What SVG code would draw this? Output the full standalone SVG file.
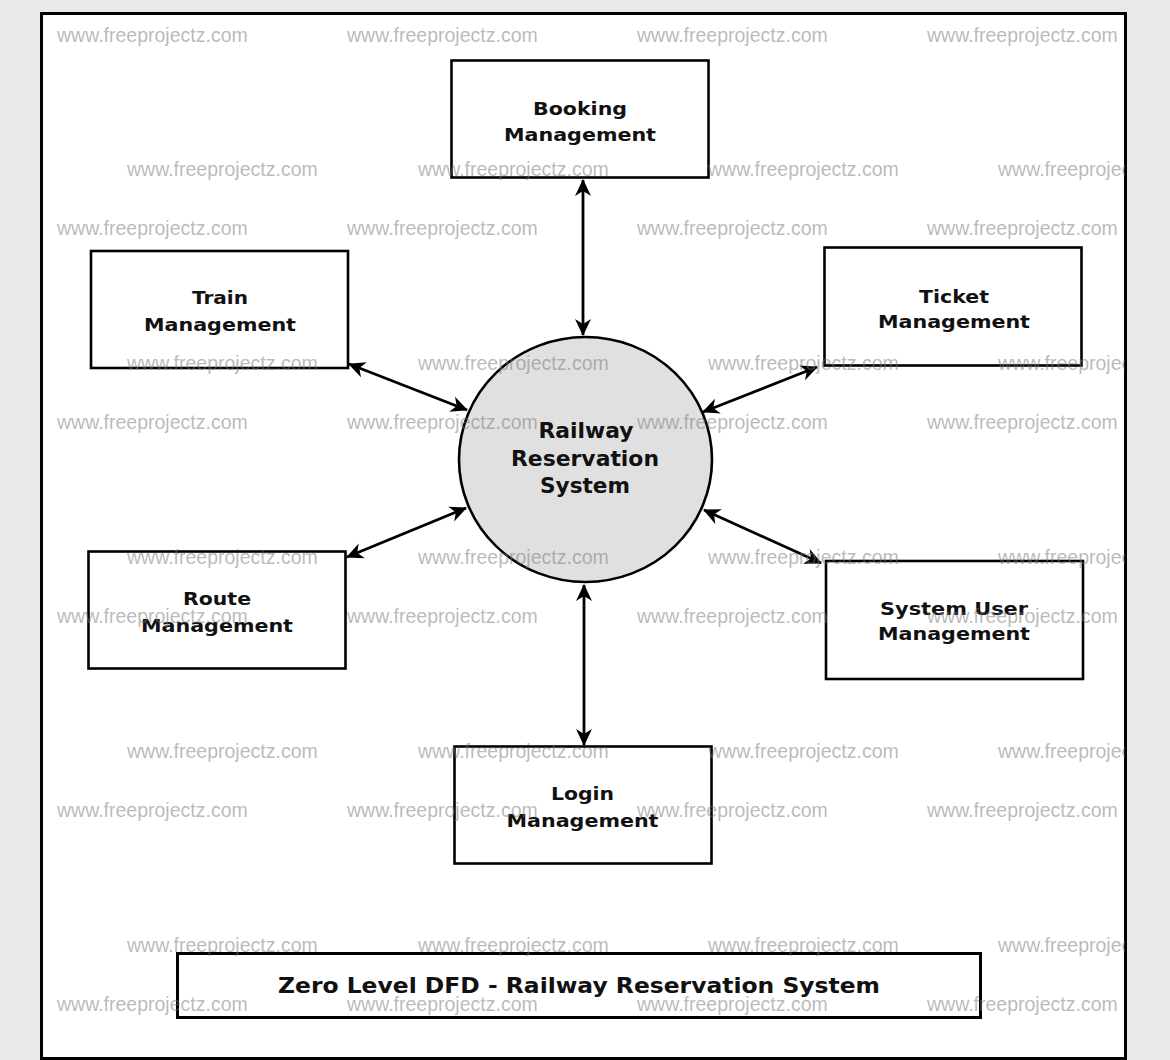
<svg xmlns="http://www.w3.org/2000/svg" width="1170" height="1060" viewBox="0 0 1170 1060">
<style>
.box{fill:#ffffff;stroke:#000000;stroke-width:2.6}
.lbl{font-family:"DejaVu Sans","Verdana",sans-serif;font-weight:bold;font-size:18px;fill:#111111;text-anchor:middle}
.clbl{font-family:"DejaVu Sans","Verdana",sans-serif;font-weight:bold;font-size:20.5px;fill:#111111;text-anchor:middle}
.flow{fill:none;stroke:#000000;stroke-width:2.8}
.wm{font-family:"Liberation Sans",Arial,sans-serif;font-size:19.5px;fill:#777777;fill-opacity:0.52}
</style>
<defs>
<marker id="ah" viewBox="-18 -9 20 18" refX="0" refY="0" markerWidth="20" markerHeight="18" markerUnits="userSpaceOnUse" orient="auto-start-reverse">
<path d="M1,0 L-16,-8 L-11,0 L-16,8 Z" fill="#000000"/>
</marker>
<clipPath id="frameclip"><rect x="42" y="15" width="1083" height="1042"/></clipPath>
</defs>
<rect x="0" y="0" width="1170" height="1060" fill="#e9e9e9"/>
<rect id="frame" x="41.5" y="13.5" width="1084" height="1045" fill="#ffffff" stroke="#000000" stroke-width="3"/>

<g id="connectors">
<path class="flow" d="M583,180 L583,335" marker-start="url(#ah)" marker-end="url(#ah)"/>
<path class="flow" d="M349,364 L467,410" marker-start="url(#ah)" marker-end="url(#ah)"/>
<path class="flow" d="M817,367 L703,412" marker-start="url(#ah)" marker-end="url(#ah)"/>
<path class="flow" d="M347,557 L466,508" marker-start="url(#ah)" marker-end="url(#ah)"/>
<path class="flow" d="M821,563 L704,510" marker-start="url(#ah)" marker-end="url(#ah)"/>
<path class="flow" d="M584,585 L584,745" marker-start="url(#ah)" marker-end="url(#ah)"/>
</g>

<g id="node-system">
<ellipse cx="585.5" cy="459.5" rx="126.5" ry="122.5" fill="#e0e0e0" stroke="#000000" stroke-width="2.6"/>
<text class="clbl" x="586" y="438" textLength="95" lengthAdjust="spacingAndGlyphs">Railway</text>
<text class="clbl" x="585" y="466" textLength="148" lengthAdjust="spacingAndGlyphs">Reservation</text>
<text class="clbl" x="585" y="493" textLength="90" lengthAdjust="spacingAndGlyphs">System</text>
</g>

<g id="node-booking">
<rect class="box" x="451.5" y="60.5" width="257" height="117"/>
<text class="lbl" x="580" y="115" textLength="94" lengthAdjust="spacingAndGlyphs">Booking</text>
<text class="lbl" x="580" y="141" textLength="152" lengthAdjust="spacingAndGlyphs">Management</text>
</g>

<g id="node-train">
<rect class="box" x="91" y="251" width="257" height="117"/>
<text class="lbl" x="220" y="304" textLength="56" lengthAdjust="spacingAndGlyphs">Train</text>
<text class="lbl" x="220" y="331" textLength="152" lengthAdjust="spacingAndGlyphs">Management</text>
</g>

<g id="node-ticket">
<rect class="box" x="824.5" y="247.5" width="257" height="118"/>
<text class="lbl" x="954" y="303" textLength="70" lengthAdjust="spacingAndGlyphs">Ticket</text>
<text class="lbl" x="954" y="328" textLength="152" lengthAdjust="spacingAndGlyphs">Management</text>
</g>

<g id="node-route">
<rect class="box" x="88.5" y="551.5" width="257" height="117"/>
<text class="lbl" x="217" y="605" textLength="68" lengthAdjust="spacingAndGlyphs">Route</text>
<text class="lbl" x="217" y="632" textLength="152" lengthAdjust="spacingAndGlyphs">Management</text>
</g>

<g id="node-sysuser">
<rect class="box" x="826" y="561" width="257" height="118"/>
<text class="lbl" x="954" y="615" textLength="148" lengthAdjust="spacingAndGlyphs">System User</text>
<text class="lbl" x="954" y="640" textLength="152" lengthAdjust="spacingAndGlyphs">Management</text>
</g>

<g id="node-login">
<rect class="box" x="454.5" y="746.5" width="257" height="117"/>
<text class="lbl" x="582.5" y="800" textLength="63" lengthAdjust="spacingAndGlyphs">Login</text>
<text class="lbl" x="582.5" y="827" textLength="152" lengthAdjust="spacingAndGlyphs">Management</text>
</g>

<g id="title">
<rect x="177.5" y="953.5" width="803" height="64" fill="#ffffff" stroke="#000000" stroke-width="3"/>
<text class="clbl" x="579" y="993" textLength="602" lengthAdjust="spacingAndGlyphs">Zero Level DFD - Railway Reservation System</text>
</g>

<g id="watermarks" class="wm" clip-path="url(#frameclip)">
<text x="57" y="42">www.freeprojectz.com</text><text x="347" y="42">www.freeprojectz.com</text><text x="637" y="42">www.freeprojectz.com</text><text x="927" y="42">www.freeprojectz.com</text>
<text x="127" y="176">www.freeprojectz.com</text><text x="418" y="176">www.freeprojectz.com</text><text x="708" y="176">www.freeprojectz.com</text><text x="998" y="176">www.freeprojectz.com</text>
<text x="57" y="235">www.freeprojectz.com</text><text x="347" y="235">www.freeprojectz.com</text><text x="637" y="235">www.freeprojectz.com</text><text x="927" y="235">www.freeprojectz.com</text>
<text x="127" y="370">www.freeprojectz.com</text><text x="418" y="370">www.freeprojectz.com</text><text x="708" y="370">www.freeprojectz.com</text><text x="998" y="370">www.freeprojectz.com</text>
<text x="57" y="429">www.freeprojectz.com</text><text x="347" y="429">www.freeprojectz.com</text><text x="637" y="429">www.freeprojectz.com</text><text x="927" y="429">www.freeprojectz.com</text>
<text x="127" y="564">www.freeprojectz.com</text><text x="418" y="564">www.freeprojectz.com</text><text x="708" y="564">www.freeprojectz.com</text><text x="998" y="564">www.freeprojectz.com</text>
<text x="57" y="623">www.freeprojectz.com</text><text x="347" y="623">www.freeprojectz.com</text><text x="637" y="623">www.freeprojectz.com</text><text x="927" y="623">www.freeprojectz.com</text>
<text x="127" y="758">www.freeprojectz.com</text><text x="418" y="758">www.freeprojectz.com</text><text x="708" y="758">www.freeprojectz.com</text><text x="998" y="758">www.freeprojectz.com</text>
<text x="57" y="817">www.freeprojectz.com</text><text x="347" y="817">www.freeprojectz.com</text><text x="637" y="817">www.freeprojectz.com</text><text x="927" y="817">www.freeprojectz.com</text>
<text x="127" y="952">www.freeprojectz.com</text><text x="418" y="952">www.freeprojectz.com</text><text x="708" y="952">www.freeprojectz.com</text><text x="998" y="952">www.freeprojectz.com</text>
<text x="57" y="1011">www.freeprojectz.com</text><text x="347" y="1011">www.freeprojectz.com</text><text x="637" y="1011">www.freeprojectz.com</text><text x="927" y="1011">www.freeprojectz.com</text>
</g>
</svg>
